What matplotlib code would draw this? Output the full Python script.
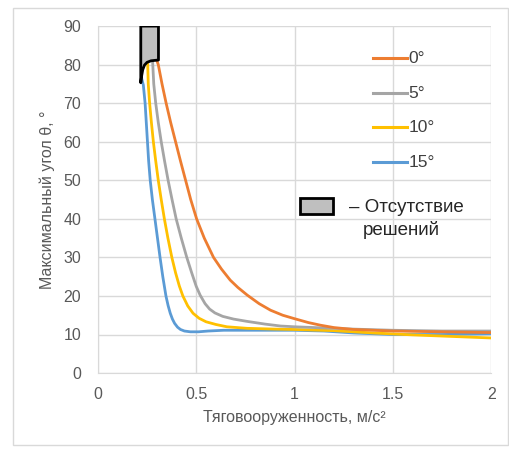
import matplotlib
matplotlib.use("Agg")
import matplotlib.pyplot as plt
from matplotlib.patches import Polygon, Rectangle

plt.rcParams['font.family'] = ['Liberation Sans', 'DejaVu Sans']

# Series: maximum angle vs thrust-to-weight ratio for several angles
x_0 = [0.300, 0.307, 0.326, 0.347, 0.370, 0.395, 0.420, 0.446, 0.472, 0.502,
       0.541, 0.588, 0.628, 0.673, 0.712, 0.760, 0.82, 0.878, 0.94, 1.0, 1.07, 1.133,
       1.2, 1.3, 1.4, 1.5, 1.75, 2.0]
y_0 = [81, 80, 75, 70, 65, 60, 55, 50, 45, 40,
       35, 30, 27, 24.1, 22.2, 20.2, 18, 16.3, 15, 14.1, 13.1, 12.4,
       11.8, 11.3, 11.1, 10.9, 10.7, 10.5]

x_5 = [0.278, 0.284, 0.294, 0.307, 0.322, 0.339, 0.357, 0.377, 0.398, 0.424,
       0.452, 0.477, 0.500, 0.520, 0.545, 0.568, 0.595, 0.635, 0.69, 0.759, 0.85, 0.929,
       1.0, 1.1, 1.3, 1.5, 1.75, 2.0]
y_5 = [81, 75, 70, 65, 60, 55, 50, 45, 40, 35,
       30, 26, 22.5, 20.2, 18, 16.6, 15.6, 14.7, 14.0, 13.4, 12.7, 12.2,
       12.0, 11.8, 11.4, 11.1, 10.9, 10.9]

x_10 = [0.253, 0.256, 0.263, 0.272, 0.282, 0.294, 0.307, 0.322, 0.338, 0.356,
        0.376, 0.395, 0.414, 0.432, 0.457, 0.484, 0.515, 0.55, 0.6, 0.656,
        0.759, 0.9, 1.0, 1.2, 1.4, 1.6, 1.8, 2.0]
y_10 = [80.5, 75, 70, 65, 60, 55, 50, 45, 40, 35,
        30, 26, 22.6, 20, 17.4, 15.5, 14.2, 13.3, 12.6, 12.0,
        11.6, 11.4, 11.3, 11.0, 10.4, 9.9, 9.5, 9.1]

x_15 = [0.222, 0.231, 0.240, 0.246, 0.252, 0.258, 0.266, 0.277, 0.290, 0.303,
        0.316, 0.330, 0.346, 0.357, 0.368, 0.379, 0.390, 0.405, 0.420, 0.44, 0.47,
        0.512, 0.56, 0.64, 0.8, 1.0, 1.15, 1.3, 1.5, 1.75, 2.0]
y_15 = [76.5, 74.7, 70, 65, 60, 55, 50, 45, 40, 35,
        30, 25, 20, 17.5, 15.5, 14, 12.9, 11.9, 11.3, 10.9, 10.7,
        10.7, 10.9, 11.1, 11.1, 11.1, 10.9, 10.4, 10.0, 10.0, 10.2]

# Region with no solutions (outline in data units)
nosol_x = [0.218, 0.218, 0.308, 0.308, 0.27, 0.25, 0.237, 0.228, 0.222, 0.218]
nosol_y = [75.3, 90, 90, 81.2, 81.0, 80.6, 79.9, 78.7, 77.0, 75.3]

labels = ["0°", "5°", "10°", "15°"]
colors = ["#ED7D31", "#A5A5A5", "#FFC000", "#5B9BD5"]
xticks = [0, 0.5, 1, 1.5, 2]
xticklabels = ["0", "0.5", "1", "1.5", "2"]
yticks = list(range(0, 91, 10))

fig = plt.figure(figsize=(5.1, 4.5), dpi=100)
ax = fig.add_axes([0.192, 0.171, 0.771, 0.771])

series = [(x_0, y_0), (x_5, y_5), (x_10, y_10), (x_15, y_15)]
for (xs, ys), c in zip(series[::-1], colors[::-1]):
    ax.plot(xs, ys, color=c, lw=2.0, solid_capstyle='round', solid_joinstyle='round', zorder=3)

ax.add_patch(Polygon(list(zip(nosol_x, nosol_y)), closed=True, facecolor="#BFBFBF",
                     edgecolor="black", lw=2.0, joinstyle='round', zorder=4))

ax.set_xlim(0, 2)
ax.set_ylim(0, 90)
ax.set_xticks(xticks)
ax.set_xticklabels(xticklabels)
ax.set_yticks(yticks)
ax.grid(True, color="#D9D9D9", lw=1.0)
ax.set_axisbelow(True)
for s in ["top", "right"]:
    ax.spines[s].set_visible(False)
for s in ["left", "bottom"]:
    ax.spines[s].set_color("#D9D9D9")
ax.tick_params(length=0, labelsize=11.5, labelcolor="#595959")
ax.tick_params(axis='y', pad=12)
ax.tick_params(axis='x', pad=10)
ax.set_xlabel("Тяговооруженность, м/с²", fontsize=11.5, color="#595959", labelpad=6)
ax.set_ylabel("Максимальный угол θ, °", fontsize=11.5, color="#595959", labelpad=6)

# Legend drawn in axes fractions
rows = [0.908, 0.807, 0.709, 0.608]
for lab, c, yy in zip(labels, colors, rows):
    ax.plot([0.700, 0.786], [yy, yy], color=c, lw=2.2, transform=ax.transAxes,
            clip_on=False, zorder=5)
    ax.text(0.789, yy, lab, transform=ax.transAxes, fontsize=12.5, color="#404040",
            va="center", ha="left")

ax.add_patch(Rectangle((0.514, 0.458), 0.084, 0.046, transform=ax.transAxes,
                       facecolor="#BFBFBF", edgecolor="black", lw=2.0, zorder=5))
ax.text(0.639, 0.478, "– Отсутствие", transform=ax.transAxes, fontsize=13.5,
        color="#262626", va="center", ha="left")
ax.text(0.674, 0.412, "решений", transform=ax.transAxes, fontsize=13.5,
        color="#262626", va="center", ha="left")

# Light frame around the figure
fig.patches.append(Rectangle((13 / 510, 5 / 450), 495 / 510, 437 / 450,
                             transform=fig.transFigure, fill=False,
                             edgecolor="#D9D9D9", lw=1.0))

fig.savefig("out.png", dpi=100)
